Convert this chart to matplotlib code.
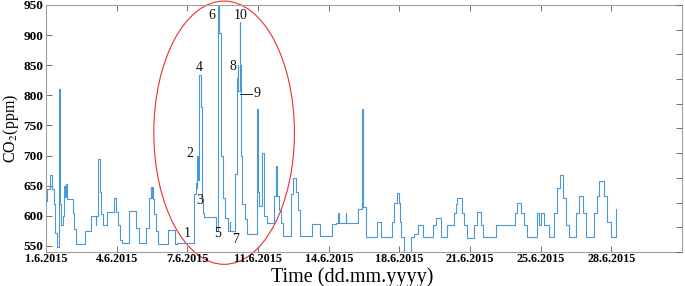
import matplotlib
matplotlib.use("Agg")
import matplotlib.pyplot as plt
from matplotlib.patches import Ellipse

plt.rcParams["font.family"] = ["Liberation Serif", "DejaVu Serif"]
plt.rcParams["mathtext.fontset"] = "stix"

# CO2 record: sample index (step start) and level in ppm
sample = [0, 2, 5, 9, 11, 12, 15, 19, 20, 21, 24, 25, 26, 27, 28, 29, 38, 40, 43, 55,
          64, 70, 71, 74, 76, 78, 81, 86, 96, 99, 102, 104, 107, 118, 128, 131, 142, 146,
          148, 149, 150, 151, 153, 156, 159, 172, 182, 186, 210, 212, 213, 214, 215, 216,
          217, 219, 220, 221, 222, 224, 241, 243, 245, 247, 248, 250, 253, 257, 260, 261,
          268, 270, 271, 272, 274, 275, 276, 278, 281, 284, 298, 300, 302, 306, 308, 309,
          312, 323, 326, 327, 329, 333, 336, 347, 349, 354, 356, 359, 377, 387, 404, 411,
          413, 414, 424, 425, 442, 447, 449, 453, 469, 474, 489, 493, 496, 499, 501, 503,
          506, 517, 521, 527, 533, 547, 552, 559, 568, 578, 580, 582, 588, 592, 596, 606,
          610, 616, 619, 637, 663, 666, 672, 677, 681, 695, 698, 700, 705, 712, 719, 723,
          727, 731, 736, 740, 750, 754, 760, 764, 776, 780, 783, 790, 794, 800, 807]
co2 = [625, 645, 668, 645, 620, 572, 548, 810, 620, 585, 600, 630, 650, 632, 652, 628, 605, 578, 553, 575,
       600, 585, 600, 695, 640, 603, 585, 607, 630, 607, 585, 560, 555, 608, 580, 555, 580, 630,
       648, 630, 648, 628, 603, 575, 553, 577, 553, 555, 637, 655, 647, 700, 660, 720,
       833, 780, 650, 630, 605, 598, 575, 950, 903, 880, 700, 630, 597, 575, 590, 575,
       670, 828, 850, 808, 922, 850, 700, 620, 595, 570, 778, 640, 617, 705, 620, 600,
       588, 633, 683, 633, 610, 588, 567, 637, 662, 640, 610, 567, 587, 567, 587, 588,
       605, 588, 605, 588, 612, 777, 615, 565, 590, 565, 590, 622, 638, 622, 590, 565,
       530, 565, 570, 585, 565, 585, 597, 565, 585, 605, 620, 630, 605, 585, 563, 585,
       607, 585, 565, 585, 605, 622, 605, 585, 565, 605, 585, 605, 585, 565, 605, 647,
       667, 630, 585, 565, 605, 633, 605, 565, 605, 633, 658, 633, 590, 565, 612]

tick_pos = [0, 100, 200, 300, 400, 500, 600, 700, 800]
tick_labels = ["1.6.2015", "4.6.2015", "7.6.2015", "11.6.2015", "14.6.2015",
               "18.6.2015", "21.6.2015", "25.6.2015", "28.6.2015"]
y_ticks = [550, 600, 650, 700, 750, 800, 850, 900, 950]

# numbered points inside the red ellipse
marks = ["1", "2", "3", "4", "5", "6", "7", "8", "9", "10"]
mark_x = [200, 203, 217, 217, 243, 234, 268, 264, 299, 275]
mark_y = [570, 703, 625, 847, 570, 933, 560, 848, 803, 933]

fig = plt.figure(figsize=(6.85, 2.86), dpi=100)
ax = fig.add_axes([0.0672, 0.119, 0.9285, 0.8636])

ax.plot(sample, co2, drawstyle="steps-post", color="#4b98d8", lw=0.8)

ax.set_xlim(0, 900)
ax.set_ylim(540, 950)
ax.set_xticks(tick_pos)
ax.set_xticklabels(tick_labels, fontsize=8.7, fontweight="bold")
ax.set_yticks(y_ticks)
ax.set_yticklabels([str(v) for v in y_ticks], fontsize=9.5, fontweight="bold")
ax.tick_params(direction="in", length=4, width=0.7, color="#707070",
               top=True, right=False, pad=2)
ax.tick_params(axis="x", pad=1)
for s in ax.spines.values():
    s.set_color("#a0a0a0")
    s.set_linewidth(0.8)

ax.set_xlabel("Time (dd.mm.yyyy)", fontsize=14.5)
ax.xaxis.set_label_coords((352 - 46) / 636, -0.062)
ax.set_ylabel("CO$_2$(ppm)", fontsize=11.5)
ax.yaxis.set_label_coords(-0.04, 0.5)

# right side ticks on their own scale
ax2 = ax.twinx()
ax2.set_ylim(0, 10)
ax2.set_yticks(range(11))
ax2.set_yticklabels([])
ax2.tick_params(direction="in", length=4, width=0.7, color="#707070")
for s in ax2.spines.values():
    s.set_visible(False)

for lab, x, y in zip(marks, mark_x, mark_y):
    ax.text(x, y, lab, fontsize=10, ha="center", va="center", color="#111111")
ax.plot([274, 291], [803, 803], color="#222222", lw=0.7)

ax.add_patch(Ellipse((252, 738), 199, 437, fill=False, edgecolor="#e8302a",
                     lw=0.8, clip_on=False))

fig.savefig("out.png", dpi=100)
